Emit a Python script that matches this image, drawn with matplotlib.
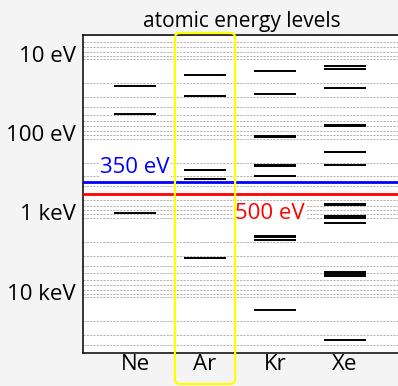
import numpy as np
import matplotlib
matplotlib.use("Agg")
import matplotlib.pyplot as plt
from matplotlib.patches import FancyBboxPatch
from matplotlib.transforms import IdentityTransform, ScaledTranslation

plt.rcParams['font.family'] = ['Open Sans', 'DejaVu Sans']

# electron binding energies (eV) for each element
elements = ['Ne', 'Ar', 'Kr', 'Xe']
ne_levels = [21.6, 48.5, 870.2]
ar_levels = [15.8, 29.3, 248.4, 250.6, 326.3, 3205.9]
kr_levels = [14.0, 27.5, 93.8, 95.0, 214.4, 222.2, 292.8,
             1678.4, 1730.9, 1921.0, 14326.0]
xe_levels = [12.1, 13.4, 23.3, 67.5, 69.5, 145.5, 146.7, 213.2,
             676.4, 689.0, 940.6, 1002.1, 1148.7, 4786.0, 5107.0,
             5453.0, 34561.0]
levels = [ne_levels, ar_levels, kr_levels, xe_levels]

major_ticks = [10, 100, 1000, 10000]
major_labels = ['10 eV', '100 eV', '1 keV', '10 keV']

photon_blue = 350
photon_red = 500
highlight = 'Ar'

fig = plt.figure(figsize=(3.98, 3.86), dpi=100, facecolor='#f4f4f4')
ax = fig.add_axes([0.2073, 0.0863, 0.8003, 0.8218])
ax.set_facecolor('white')

ax.set_yscale('log')
ax.set_ylim(5e4, 5)
ax.set_xlim(0.25, 4.8)

# level lines
half_w = 0.3
for i, lv in enumerate(levels):
    xc = i + 1
    ax.hlines(lv, xc - half_w, xc + half_w, colors='black', lw=1.4, zorder=3)

# reference photon energies
ax.axhline(photon_blue, color='#0000ff', lw=2.0, zorder=4)
ax.axhline(photon_red, color='#ff0000', lw=2.0, zorder=4)
ax.annotate(f'{photon_blue} eV', xy=(0.5, photon_blue), xytext=(0, 6),
            textcoords='offset points', va='baseline', ha='left',
            color='#0000ff', fontsize=16, zorder=5,
            bbox=dict(facecolor='white', edgecolor='none', pad=1))
ax.annotate(f'{photon_red} eV', xy=(2.43, photon_red), xytext=(0, -18),
            textcoords='offset points', va='baseline', ha='left',
            color='#ff0000', fontsize=16, zorder=5,
            bbox=dict(facecolor='white', edgecolor='none', pad=1))

# axes decoration
ax.set_yticks(major_ticks)
ax.set_yticklabels(major_labels)
ax.yaxis.set_minor_formatter(plt.NullFormatter())
ax.set_xticks(range(1, len(elements) + 1))
ax.set_xticklabels(elements)
ax.tick_params(axis='both', which='both', length=0, labelsize=16)
ax.tick_params(axis='y', pad=5)
ax.tick_params(axis='x', pad=1)
ax.grid(True, axis='y', which='both', color='#a3a3a3', lw=0.6,
        linestyle=(0, (2.5, 1.5)), zorder=1)
ax.set_axisbelow(True)
ax.spines['right'].set_visible(False)
for s in ['left', 'top', 'bottom']:
    ax.spines[s].set_linewidth(1.1)

shift = ScaledTranslation(0, 4 / 72, fig.dpi_scale_trans)
for lab in ax.get_yticklabels():
    lab.set_transform(lab.get_transform() + shift)

ax.set_title('atomic energy levels', fontsize=15, pad=6)

# rounded box around the highlighted column
hx = elements.index(highlight) + 1
x0, _ = ax.transData.transform((hx - 0.43, 100))
x1, _ = ax.transData.transform((hx + 0.43, 100))
_, y0 = ax.transAxes.transform((0, -0.0987))
_, y1 = ax.transAxes.transform((0, 1.008))
box = FancyBboxPatch((x0, y0), x1 - x0, y1 - y0,
                     boxstyle='round,pad=0,rounding_size=5',
                     transform=IdentityTransform(), facecolor='none',
                     edgecolor='#ffff00', lw=1.6, zorder=10)
fig.add_artist(box)

fig.savefig('out.png', dpi=100, facecolor=fig.get_facecolor())
